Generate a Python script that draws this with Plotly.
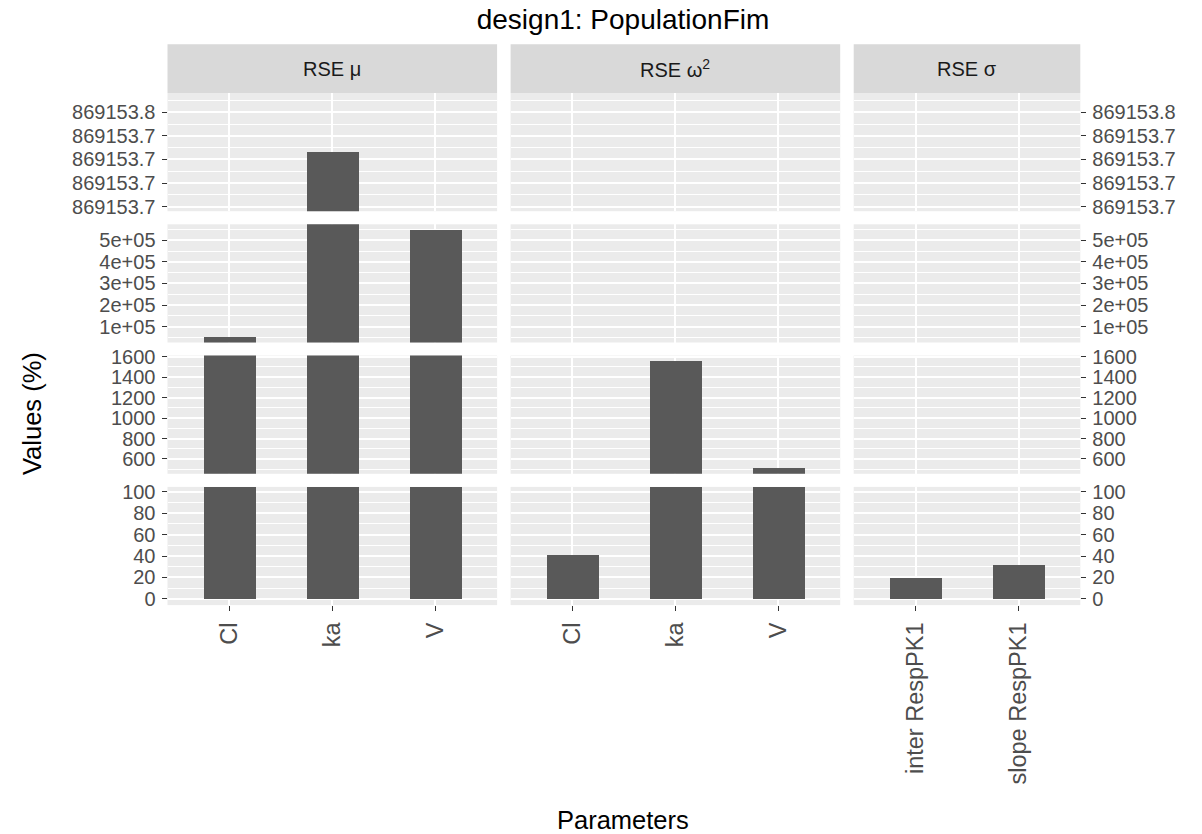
import plotly.graph_objects as go

# ---- data -------------------------------------------------------------
facets = ["RSE \u03bc", "RSE \u03c9<sup>2</sup>", "RSE \u03c3"]
params_mu = ["Cl", "ka", "V"]
values_mu = [52300, 869153.726, 547700]
params_omega = ["Cl", "ka", "V"]
values_omega = [41.3, 1558, 512]
params_sigma = ["inter RespPK1", "slope RespPK1"]
values_sigma = [20.0, 31.6]

# broken y axis: one segment per row, top to bottom
seg_ranges = [
    [869153.6762, 869153.7763],
    [26850, 574000],
    [455, 1611],
    [-5.8, 104.6],
]
seg_ticks = [
    [869153.68, 869153.70, 869153.72, 869153.74, 869153.76],
    [100000, 200000, 300000, 400000, 500000],
    [600, 800, 1000, 1200, 1400, 1600],
    [0, 20, 40, 60, 80, 100],
]
seg_ticktext = [
    ["869153.7", "869153.7", "869153.7", "869153.7", "869153.8"],
    ["1e+05", "2e+05", "3e+05", "4e+05", "5e+05"],
    ["600", "800", "1000", "1200", "1400", "1600"],
    ["0", "20", "40", "60", "80", "100"],
]
seg_minor = [
    [869153.69, 869153.71, 869153.73, 869153.75, 869153.77],
    [50000, 150000, 250000, 350000, 450000, 550000],
    [500, 700, 900, 1100, 1300, 1500],
    [10, 30, 50, 70, 90],
]

columns = [
    (params_mu, values_mu),
    (params_omega, values_omega),
    (params_sigma, values_sigma),
]

# ---- geometry (pixels) -----------------------------------------------
W, H = 1202, 834
col_px = [(167.5, 497.1), (510.6, 840.2), (853.7, 1080.3)]
row_px = [(93.0, 211.2), (224.3, 342.5), (355.6, 473.8), (486.9, 605.1)]
strip_top = 44.3


def fx(px):
    return px / W


def fy(py):
    return 1 - py / H


BAR = "#595959"
PANEL = "#EBEBEB"
TICKTXT = "#4D4D4D"
TICKCOL = "#333333"
FONT = "Liberation Sans, Arial, sans-serif"

fig = go.Figure()
layout = {}

for r in range(4):
    for c in range(3):
        k = r * 3 + c + 1
        sfx = "" if k == 1 else str(k)
        cats, vals = columns[c]
        fig.add_trace(go.Bar(
            x=cats, y=vals, width=0.5,
            marker=dict(color=BAR, line=dict(width=0)),
            xaxis="x" + sfx, yaxis="y" + sfx,
            showlegend=False, hoverinfo="x+y",
        ))
        bottom = r == 3
        layout["xaxis" + sfx] = dict(
            domain=[fx(col_px[c][0]), fx(col_px[c][1])],
            anchor="y" + sfx,
            type="category",
            categoryorder="array", categoryarray=cats,
            range=[-0.6, len(cats) - 0.4],
            showgrid=True, gridcolor="white", gridwidth=2,
            zeroline=False, showline=False,
            ticks="outside" if bottom else "",
            ticklen=5, tickwidth=1, tickcolor=TICKCOL,
            showticklabels=bottom,
            tickangle=-90,
            tickfont=dict(family=FONT, size=23.5, color=TICKTXT),
            ticklabelstandoff=2,
            automargin=False,
            fixedrange=True,
        )
        yax = dict(
            domain=[fy(row_px[r][1]), fy(row_px[r][0])],
            anchor="x" + sfx,
            range=seg_ranges[r],
            tickmode="array",
            tickvals=seg_ticks[r],
            ticktext=seg_ticktext[r],
            showgrid=True, gridcolor="white", gridwidth=2,
            minor=dict(tickmode="array", tickvals=seg_minor[r],
                       showgrid=True, gridcolor="white", gridwidth=1,
                       ticks=""),
            zeroline=False, showline=False,
            tickfont=dict(family=FONT, size=20, color=TICKTXT),
            automargin=False,
            fixedrange=True,
        )
        if c == 0:
            yax.update(side="left", ticks="outside", ticklen=5,
                       tickwidth=1, tickcolor=TICKCOL, showticklabels=True,
                       ticklabelstandoff=2)
        elif c == 2:
            yax.update(side="right", ticks="outside", ticklen=5,
                       tickwidth=1, tickcolor=TICKCOL, showticklabels=True,
                       ticklabelstandoff=2)
        else:
            yax.update(ticks="", showticklabels=False)
        layout["yaxis" + sfx] = yax

# facet strips
shapes = []
annotations = []
for c, label in enumerate(facets):
    x0, x1 = col_px[c]
    shapes.append(dict(
        type="rect", xref="paper", yref="paper",
        x0=fx(x0), x1=fx(x1), y0=fy(row_px[0][0]), y1=fy(strip_top),
        fillcolor="#D9D9D9", line=dict(width=0), layer="below",
    ))
    annotations.append(dict(
        text=label, xref="paper", yref="paper",
        x=fx((x0 + x1) / 2), y=fy((strip_top + row_px[0][0]) / 2),
        xanchor="center", yanchor="middle", showarrow=False,
        font=dict(family=FONT, size=20, color="#1A1A1A"),
    ))

# axis titles
annotations.append(dict(
    text="Values (%)", xref="paper", yref="paper",
    x=fx(32), y=fy(414), xanchor="center", yanchor="middle",
    textangle=-90, showarrow=False,
    font=dict(family=FONT, size=25.5, color="black"),
))
annotations.append(dict(
    text="Parameters", xref="paper", yref="paper",
    x=fx(623), y=fy(820), xanchor="center", yanchor="middle",
    showarrow=False,
    font=dict(family=FONT, size=25.5, color="black"),
))

fig.update_layout(
    **layout,
    width=W, height=H,
    margin=dict(l=0, r=0, t=0, b=0, autoexpand=False),
    paper_bgcolor="white",
    plot_bgcolor=PANEL,
    bargap=0,
    title=dict(text="design1: PopulationFim", x=fx(623), xanchor="center",
               y=fy(19), yanchor="middle",
               font=dict(family=FONT, size=28, color="black")),
    shapes=shapes,
    annotations=annotations,
    showlegend=False,
)

fig.write_html("out.html")
